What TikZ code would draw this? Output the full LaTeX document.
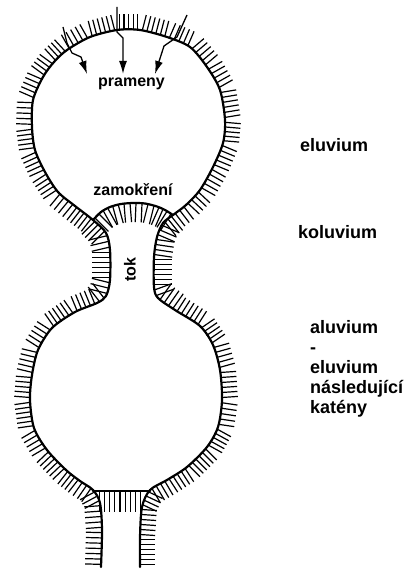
\documentclass[tikz,border=0pt]{standalone}
\usepackage{fontspec}
\setmainfont{Liberation Sans}
\usetikzlibrary{calc,arrows.meta}

% short strokes on the left side of a polyline (given as x/y pairs),
% about every 5pt, each #1 long
\newcommand\hatchalong[2]{%
  \foreach \hx/\hy [count=\hi, remember=\hx as \hpx, remember=\hy as \hpy] in {#2}{%
    \ifnum\hi>1
      \pgfmathtruncatemacro\hn{max(1,round(veclen(\hx-\hpx,\hy-\hpy)/5))}%
      \foreach \hk in {1,...,\hn}{%
        \pgfmathsetmacro\hpos{(\hk-0.5)/\hn}%
        \draw[hatchstroke] ($(\hpx,\hpy)!\hpos!(\hx,\hy)$) -- ($(\hpx,\hpy)!\hpos!(\hx,\hy)!#1!90:(\hx,\hy)$);
      }%
    \fi
  }}

\begin{document}
\begin{tikzpicture}[x=1pt,y=-1pt,
  outline/.style={line width=2.2pt, line join=round, line cap=round},
  hatchstroke/.style={line width=1.2pt},
  biglabel/.style={font=\bfseries\fontsize{18}{20}\selectfont, anchor=base west, inner sep=0pt},
  smalllabel/.style={font=\bfseries\fontsize{16}{18}\selectfont, inner sep=0pt},
  flow/.style={line width=1.3pt, line join=round, -{Latex[length=13pt,width=8pt]}}
]
\useasboundingbox (0,0) rectangle (406,572);

% outer boundary of the valley system
\draw[outline] plot[smooth, tension=0.5] coordinates {
  (101,567) (102,530) (100,503) (93,490) (80,481) (66,470) (47,450) (34,428)
  (30,400) (32,375) (38,350) (52,328) (75,312) (97,303) (106,296) (110,280)
  (110,250) (106,233) (93,220) (75,206) (58,192) (45,172) (35,150) (32,127)
  (33,100) (43,77) (54,62) (67,50) (90,37) (117,30) (140,30) (167,37) (190,47)
  (207,67) (220,90) (225,120) (223,143) (213,167) (200,190) (186,205) (173,215)
  (163,223) (157,237) (154,257) (154,287) (158,298) (175,310) (200,326) (213,345)
  (220,370) (222,400) (218,427) (207,447) (187,467) (167,480) (150,490) (142,507)
  (140,537) (140,567)};

% slope hatching, section by section
\hatchalong{16pt}{101/567, 102/530, 100/503, 93/490}
\hatchalong{16pt}{93/490, 80/481, 66/470, 47/450, 34/428, 30/400, 32/375, 38/350,
  52/328, 75/312, 97/303}
\hatchalong{18pt}{97/303, 106/296, 110/280, 110/250, 106/233, 93/220}
\hatchalong{16pt}{93/220, 75/206, 58/192, 45/172, 35/150, 32/127, 33/100, 43/77,
  54/62, 67/50, 90/37, 117/30, 140/30, 167/37, 190/47, 207/67, 220/90,
  225/120, 223/143, 213/167, 200/190, 186/205, 173/215}
\hatchalong{18pt}{173/215, 163/223, 157/237, 154/257, 154/287, 158/298, 175/310}
\hatchalong{16pt}{175/310, 200/326, 213/345, 220/370, 222/400, 218/427, 207/447,
  187/467, 167/480, 150/490}
\hatchalong{15pt}{150/490, 142/507, 140/537, 140/567}

% waterlogged threshold between upper basin and channel
\draw[outline] plot[smooth, tension=0.5] coordinates {
  (173,215) (165,210) (157,206.5) (145,203.5) (133,203) (121,204) (110,207) (101,212) (93,220)};
\hatchalong{19pt}{173/215, 165/210, 157/206.5, 145/203.5, 133/203, 121/204, 110/207, 101/212, 93/220}

% threshold at the outlet of the lower basin
\draw[outline] (150,491) -- (93,491);
\hatchalong{21pt}{143/491, 97/491}

% springs
\draw[flow] (63,27) -- (67,43) -- (72,53) -- (81,57) -- (87,74);
\draw[flow] (117,7) -- (117,32) -- (123,38) -- (123,74);
\draw[flow] (187,15) -- (177,37) -- (164,46) -- (155,74);

% labels inside the sketch
\node[smalllabel, anchor=base] (prameny) at (131.5,87) {prameny};
\node[smalllabel, anchor=base] (zamok) at (133,195) {zamokření};
\node[smalllabel, rotate=90] (tok) at (130,269.5) {tok};

% zone labels
\node[biglabel] (elu) at (300,152) {eluvium};
\node[biglabel] (kolu) at (298,238) {koluvium};
\node[biglabel] (alu) at (310,333) {aluvium};
\node[biglabel] (dash) at (310,353) {-};
\node[biglabel] (elu2) at (310,373) {eluvium};
\node[biglabel] (nasl) at (310,393) {následující};
\node[biglabel] (kat) at (310,413) {katény};
\end{tikzpicture}
\end{document}
